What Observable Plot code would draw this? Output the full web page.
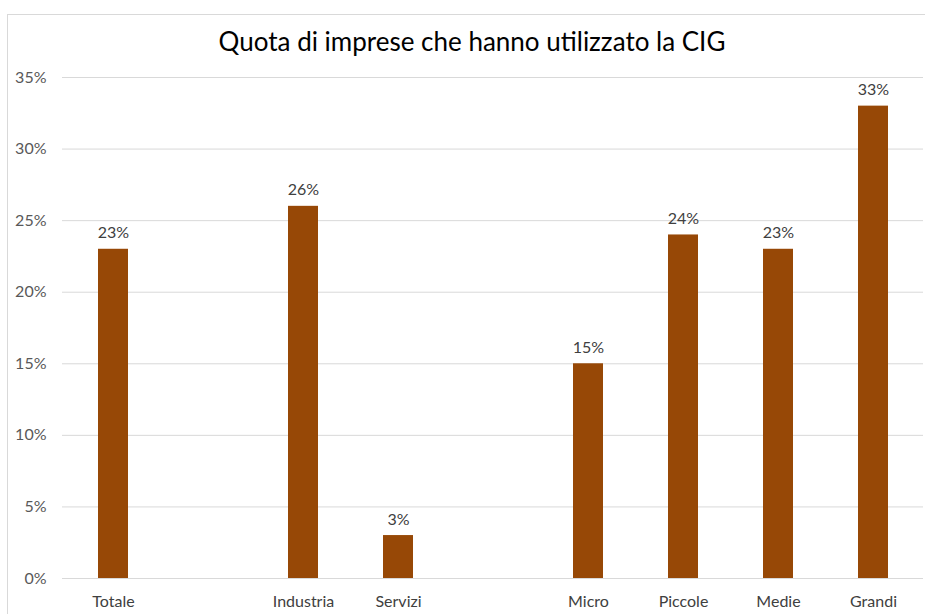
<!DOCTYPE html>
<html>
<head>
<meta charset="utf-8">
<script src="https://cdn.jsdelivr.net/npm/d3@7"></script>
<script src="https://cdn.jsdelivr.net/npm/@observablehq/plot@0.6"></script>
<style>
  html, body { margin: 0; padding: 0; background: #fff; }
  #wrap { position: relative; width: 925px; height: 614px; overflow: hidden; }
  #frame { position: absolute; left: 7px; top: 14px; width: 940px; height: 620px; border: 1px solid #d9d9d9; box-sizing: border-box; }
  #title { position: absolute; left: 0; width: 944px; top: 25px; text-align: center; font-family: Lato, "Open Sans", sans-serif; font-size: 26px; color: #000; }
  #chart { position: absolute; left: 0; top: 0; }
</style>
</head>
<body>
<div id="wrap">
  <div id="frame"></div>
  <div id="title">Quota di imprese che hanno utilizzato la CIG</div>
  <div id="chart"></div>
</div>
<script>
const categories = ["Totale", " ", "Industria", "Servizi", "  ", "Micro", "Piccole", "Medie", "Grandi"];
const barCategories = ["Totale", "Industria", "Servizi", "Micro", "Piccole", "Medie", "Grandi"];
const values = [0.23, 0.26, 0.03, 0.15, 0.24, 0.23, 0.33];
const yTicks = [0, 0.05, 0.10, 0.15, 0.20, 0.25, 0.30, 0.35];

const data = barCategories.map((c, i) => ({category: c, value: values[i]}));
const pct = d3.format(".0%");

const plot = Plot.plot({
  width: 925,
  height: 614,
  marginLeft: 62,
  marginRight: 2,
  marginTop: 77,
  marginBottom: 36,
  style: {fontFamily: "Lato, 'Open Sans', sans-serif", fontSize: "16px", background: "transparent"},
  x: {domain: categories, paddingInner: 0.686, paddingOuter: 0.343, align: 0.5, label: null},
  y: {domain: [0, 0.35], label: null},
  marks: [
    Plot.gridY(yTicks, {stroke: "#d9d9d9", strokeOpacity: 1}),
    Plot.axisY(yTicks, {tickSize: 0, tickPadding: 16, tickFormat: pct, fill: "#595959", fontSize: 16, label: null}),
    Plot.axisX({tickSize: 0, tickPadding: 17, fill: "#404040", fontSize: 16, label: null}),
    Plot.barY(data, {x: "category", y: "value", fill: "#974806"}),
    Plot.text(data, {x: "category", y: "value", text: d => pct(d.value), dy: -16, fill: "#404040", fontSize: 16})
  ]
});
document.getElementById("chart").appendChild(plot);
</script>
</body>
</html>
